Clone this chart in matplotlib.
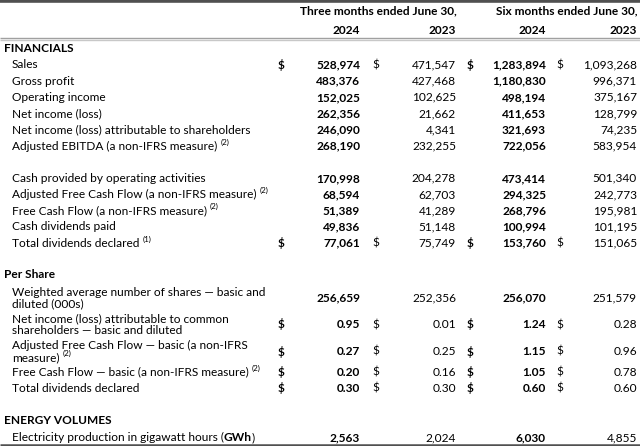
import matplotlib
matplotlib.use("Agg")
import matplotlib.pyplot as plt

FONT = "Lato"
FS = 8.6
INK = "#000000"

# --- data -------------------------------------------------------------
financial_labels = [
    "Sales", "Gross profit", "Operating income", "Net income (loss)",
    "Net income (loss) attributable to shareholders",
    "Adjusted EBITDA (a non-IFRS measure)",
    None,
    "Cash provided by operating activities",
    "Adjusted Free Cash Flow (a non-IFRS measure)",
    "Free Cash Flow (a non-IFRS measure)",
    "Cash dividends paid",
    "Total dividends declared",
]
financial_notes = ["", "", "", "", "", "(2)", None, "", "(2)", "(2)", "", "(1)"]
financial_dollar = [True, False, False, False, False, False, None,
                    False, False, False, False, True]
q2_2024 = ["528,974", "483,376", "152,025", "262,356", "246,090", "268,190", None,
           "170,998", "68,594", "51,389", "49,836", "77,061"]
q2_2023 = ["471,547", "427,468", "102,625", "21,662", "4,341", "232,255", None,
           "204,278", "62,703", "41,289", "51,148", "75,749"]
h1_2024 = ["1,283,894", "1,180,830", "498,194", "411,653", "321,693", "722,056", None,
           "473,414", "294,325", "268,796", "100,994", "153,760"]
h1_2023 = ["1,093,268", "996,371", "375,167", "128,799", "74,235", "583,954", None,
           "501,340", "242,773", "195,981", "101,195", "151,065"]

share_labels = [
    ["Weighted average number of shares \u2014 basic and", "diluted (000s)"],
    ["Net income (loss) attributable to common", "shareholders \u2014 basic and diluted"],
    ["Adjusted Free Cash Flow \u2014 basic (a non-IFRS", "measure)"],
    ["Free Cash Flow \u2014 basic (a non-IFRS measure)"],
    ["Total dividends declared"],
]
share_notes = ["", "", "(2)", "(2)", ""]
share_dollar = [False, True, True, True, True]
share_q2_2024 = ["256,659", "0.95", "0.27", "0.20", "0.30"]
share_q2_2023 = ["252,356", "0.01", "0.25", "0.16", "0.30"]
share_h1_2024 = ["256,070", "1.24", "1.15", "1.05", "0.60"]
share_h1_2023 = ["251,579", "0.28", "0.96", "0.78", "0.60"]

gwh = ["2,563", "2,024", "6,030", "4,855"]

# column right edges and "$" positions (pixels)
col_right = [360, 456, 546, 637]
dollar_x = [278, 372, 467, 556]
col_bold = [True, False, True, False]

fig = plt.figure(figsize=(6.4, 4.46), dpi=100)
ax = fig.add_axes([0, 0, 1, 1])
ax.set_xlim(0, 640)
ax.set_ylim(446, 0)
ax.axis("off")
renderer = fig.canvas.get_renderer()


def txt(x, y, s, bold=False, ha="left", size=FS, **kw):
    return ax.text(x, y, s, ha=ha, va="center", fontsize=size, family=FONT,
                   fontweight="bold" if bold else "normal", color=INK, **kw)


def right_of(t):
    bb = t.get_window_extent(renderer).transformed(ax.transData.inverted())
    return max(bb.x0, bb.x1)


def note(t, y, s):
    if s:
        txt(right_of(t) + 3, y - 4, s, size=5.8)


def values(y, vals, dollar):
    for i, v in enumerate(vals):
        txt(col_right[i], y, v, bold=col_bold[i], ha="right")
        if dollar:
            txt(dollar_x[i], y, "$", bold=col_bold[i])


# header
ax.plot([0, 640], [1.2, 1.2], color="#505050", lw=2.6, solid_capstyle="butt")
txt(457, 11, "Three months ended June 30,", bold=True, ha="right")
txt(638, 11, "Six months ended June 30,", bold=True, ha="right")
for i, yr in enumerate(["2024", "2023", "2024", "2023"]):
    txt(col_right[i], 30, yr, bold=True, ha="right")
ax.plot([0, 640], [38, 38], color="#a0a0a0", lw=1.0, solid_capstyle="butt")
ax.plot([0, 640], [39.6, 39.6], color="#c8c8c8", lw=1.0, solid_capstyle="butt")

# financials
txt(4, 48, "FINANCIALS", bold=True)
y = 65
for k, lab in enumerate(financial_labels):
    if lab is not None:
        t = txt(12, y, lab)
        note(t, y, financial_notes[k])
        values(y, [q2_2024[k], q2_2023[k], h1_2024[k], h1_2023[k]],
               financial_dollar[k])
    y += 16.2

# per share
txt(4, 275, "Per Share", bold=True)
share_y = [292, 318.5, 345.5, 372, 388]
for k, lines in enumerate(share_labels):
    y0 = share_y[k]
    for j, ln in enumerate(lines):
        t = txt(12, y0 + j * 12, ln)
    note(t, y0 + (len(lines) - 1) * 12, share_notes[k])
    yv = y0 + (len(lines) - 1) * 6
    values(yv, [share_q2_2024[k], share_q2_2023[k], share_h1_2024[k],
                share_h1_2023[k]], share_dollar[k])

# energy volumes
txt(4, 421, "ENERGY VOLUMES", bold=True)
t = txt(12, 437.5, "Electricity production in gigawatt hours (")
t = txt(right_of(t), 437.5, "GWh", bold=True)
txt(right_of(t), 437.5, ")")
values(437.5, gwh, False)
ax.plot([0, 640], [445, 445], color="#505050", lw=1.8, solid_capstyle="butt")

fig.savefig("out.png", dpi=100)
